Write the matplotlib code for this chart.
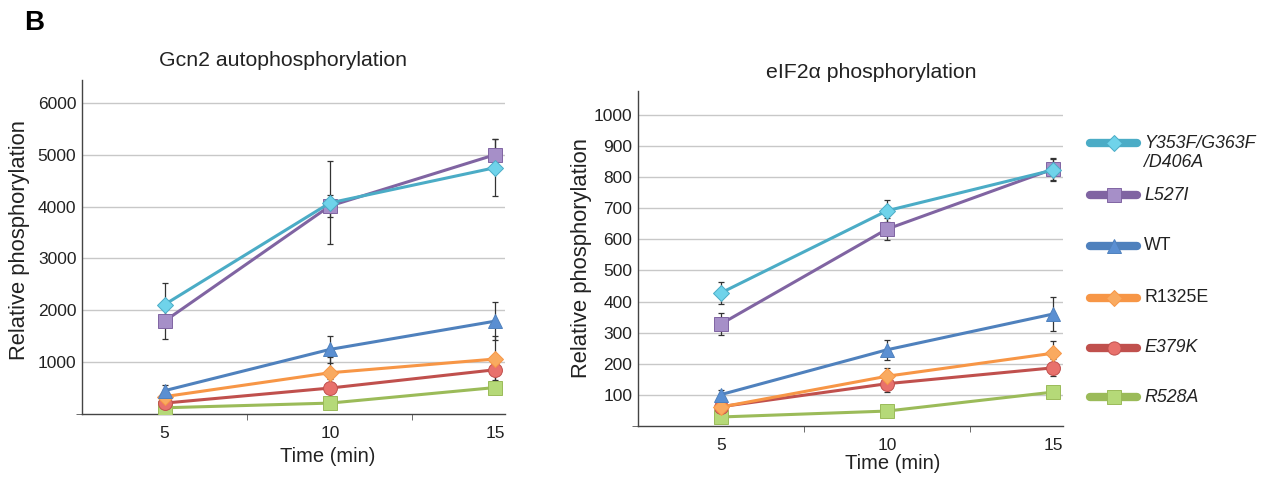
import matplotlib

matplotlib.use("Agg")
import matplotlib.pyplot as plt
from matplotlib.lines import Line2D
import numpy as np

plt.rcParams["font.family"] = ["Liberation Sans", "DejaVu Sans"]

times = [5, 10, 15]
mutants = ["Y353F/G363F\n/D406A", "L527I", "WT", "R1325E", "E379K", "R528A"]
italic = [True, True, False, False, True, True]

# Gcn2 autophosphorylation (left panel)
gcn2_vals = [
    [2110, 4070, 4750],
    [1790, 4010, 5000],
    [450, 1245, 1790],
    [335, 795, 1060],
    [210, 500, 853],
    [120, 210, 510],
]
gcn2_err = [
    [420, 800, 550],
    [340, 210, 300],
    [100, 260, 370],
    [60, 300, 450],
    [40, 180, 200],
    [30, 40, 80],
]

# eIF2a phosphorylation (right panel)
eif2_vals = [
    [428, 692, 823],
    [328, 633, 826],
    [101, 245, 360],
    [61, 160, 234],
    [62, 136, 187],
    [29, 48, 109],
]
eif2_err = [
    [35, 36, 35],
    [36, 35, 35],
    [15, 32, 54],
    [10, 25, 38],
    [8, 27, 27],
    [5, 5, 8],
]

line_colors = ["#4bacc6", "#8064a2", "#4f81bd", "#f79646", "#c0504d", "#9bbb59"]
face_colors = ["#6fd3ea", "#a68fc8", "#5a8fd2", "#f9aa60", "#e8716c", "#b5d978"]
markers = ["D", "s", "^", "D", "o", "s"]
msizes = [8.5, 10, 10, 8.5, 10, 10]


def draw_panel(ax, vals, errs, ymax, ystep):
    for i in range(len(mutants)):
        ax.errorbar(times, vals[i], yerr=errs[i], fmt="none", ecolor="#333333",
                    elinewidth=0.9, capsize=2.5, capthick=0.9, zorder=3)
        ax.plot(times, vals[i], color=line_colors[i], lw=2.2, marker=markers[i],
                ms=msizes[i], mfc=face_colors[i], mec=line_colors[i], mew=0.7,
                zorder=4 + (len(mutants) - i) * 0.1)
    ax.set_xlim(2.5, 15.3)
    ax.set_ylim(0, ymax)
    ax.set_xticks(times)
    ax.set_xticks([7.5, 12.5], minor=True)
    ax.set_yticks(np.arange(ystep, ymax, ystep))
    ax.set_yticks([0], minor=True)
    ax.tick_params(axis="both", which="major", length=0, labelsize=12.5,
                   colors="#222222")
    ax.tick_params(axis="x", which="major", pad=9)
    ax.tick_params(axis="y", which="major", pad=4)
    ax.tick_params(axis="both", which="minor", length=4, direction="out",
                   color="#555555")
    ax.grid(True, axis="y", color="#c8c8c8", lw=1.0)
    ax.set_axisbelow(True)
    for side in ("top", "right"):
        ax.spines[side].set_visible(False)
    for side in ("left", "bottom"):
        ax.spines[side].set_color("#444444")
        ax.spines[side].set_linewidth(1.0)
    ax.set_ylabel("Relative phosphorylation", fontsize=15.8, color="#222222")
    ax.set_xlabel("Time (min)", fontsize=14.5, color="#222222")


fig = plt.figure(figsize=(12.65, 4.78), dpi=100)
ax1 = fig.add_axes([0.0648, 0.1339, 0.3344, 0.6987])
ax2 = fig.add_axes([0.5043, 0.1088, 0.3360, 0.7008])

draw_panel(ax1, gcn2_vals, gcn2_err, 6440, 1000)
draw_panel(ax2, eif2_vals, eif2_err, 1077, 100)
ax1.yaxis.set_label_coords(-0.124, 0.52)
ax2.yaxis.set_label_coords(-0.108, 0.5)
ax1.xaxis.set_label_coords(0.58, -0.099)
ax2.xaxis.set_label_coords(0.6, -0.084)

fig.text(283 / 1265, 1 - 61 / 478, "Gcn2 autophosphorylation", ha="center",
         va="center", fontsize=15.3, color="#222222")
fig.text(871 / 1265, 1 - 73 / 478, "eIF2\u03b1 phosphorylation", ha="center",
         va="center", fontsize=15.3, color="#222222")
fig.text(24 / 1265, 1 - 23 / 478, "B", ha="left", va="center", fontsize=20,
         fontweight="bold")

# legend drawn by hand so the handle sits on the first label line
legend_y = [143, 195, 246, 298, 348, 397]
for i, name in enumerate(mutants):
    y = 1 - legend_y[i] / 478
    fig.add_artist(Line2D([1090 / 1265, 1137 / 1265], [y, y], color=line_colors[i],
                          lw=6, solid_capstyle="round", transform=fig.transFigure))
    fig.add_artist(Line2D([1113.5 / 1265], [y], marker=markers[i],
                          ms=msizes[i] * 0.95, mfc=face_colors[i],
                          mec=line_colors[i], mew=0.7, transform=fig.transFigure))
    multi = "\n" in name
    fig.text(1144 / 1265, y + (8 / 478 if multi else 0), name, ha="left",
             va="top" if multi else "center",
             fontsize=12.8, style="italic" if italic[i] else "normal",
             color="#222222", linespacing=1.15,
             transform=fig.transFigure)

fig.savefig("out.png", dpi=100)
